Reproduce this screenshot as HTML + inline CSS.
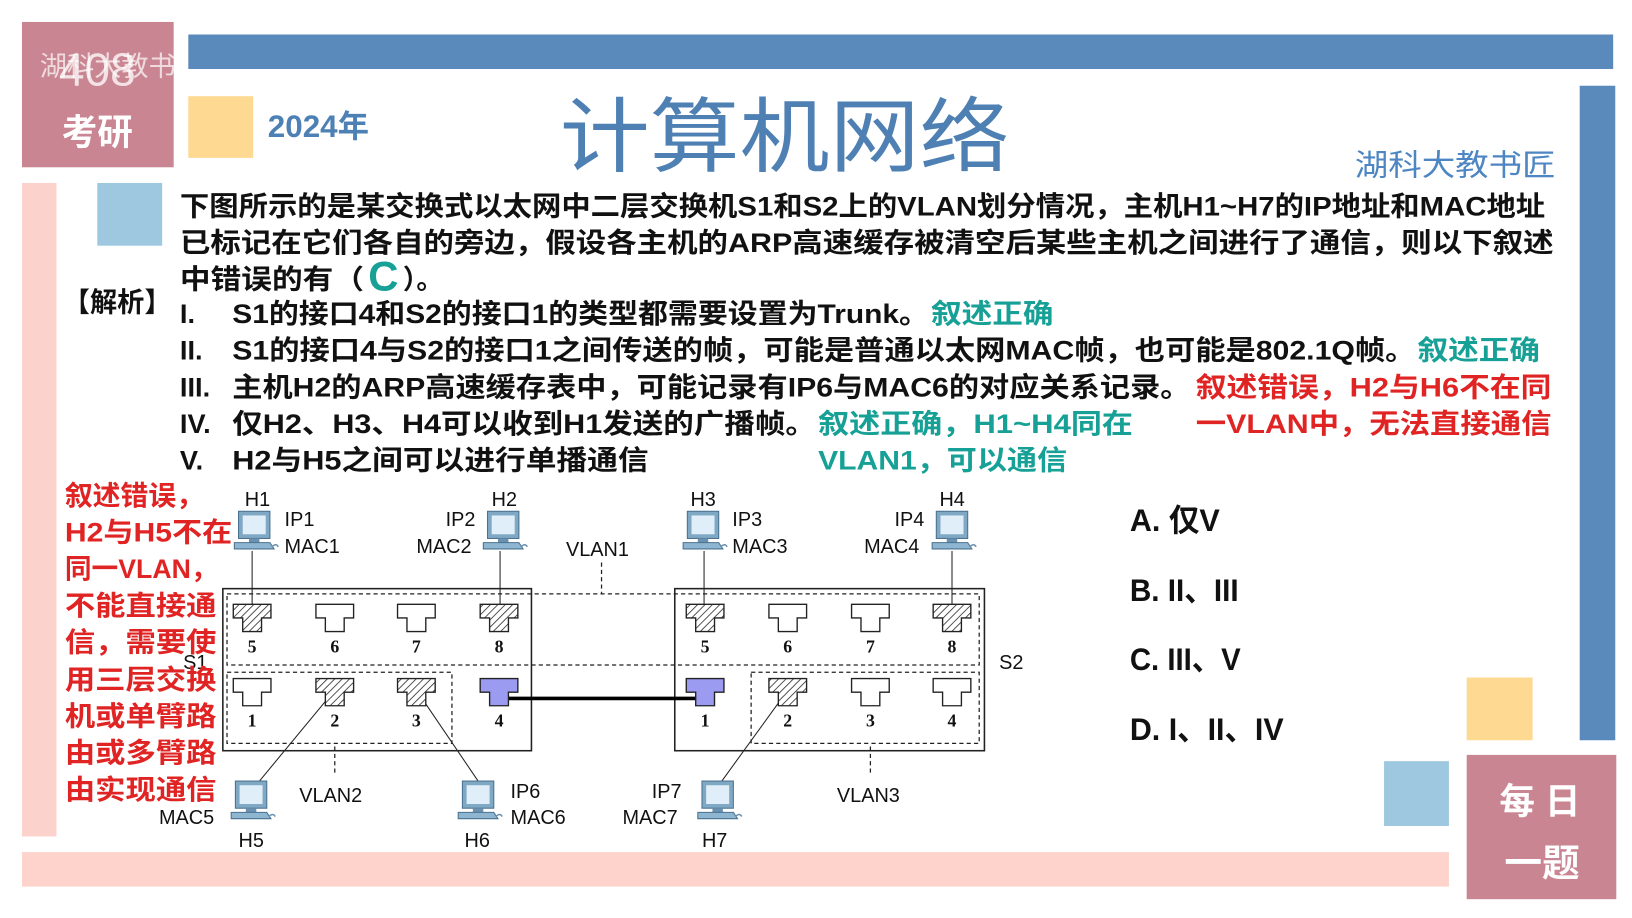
<!DOCTYPE html>
<html><head><meta charset="utf-8"><style>
html,body{margin:0;padding:0;background:#fff;width:1632px;height:918px;overflow:hidden}
svg{display:block}
text{font-family:"Liberation Sans","Noto Sans CJK SC",sans-serif}
.m{font-size:26px;fill:#111;font-weight:bold}
.g{fill:#17a096}
.r{fill:#e02424}
.d{font-size:19px;fill:#111}
.n{font-family:"Liberation Serif","Noto Serif CJK SC",serif;font-size:17px;font-weight:bold;fill:#111}
</style></head><body>
<svg width="1632" height="918" viewBox="0 0 1560 878" preserveAspectRatio="none" xmlns="http://www.w3.org/2000/svg">
<defs>
<pattern id="h" width="5" height="5" patternUnits="userSpaceOnUse" patternTransform="rotate(45)">
<rect width="5" height="5" fill="#fff"/><line x1="0" y1="0" x2="0" y2="5" stroke="#333" stroke-width="1.6"/></pattern>
<g id="pc">
<rect x="4" y="0" width="30" height="26" fill="#7fa8c4" stroke="#4a7290"/>
<rect x="8" y="4" width="22" height="18" fill="#dfeef8"/>
<rect x="14" y="26" width="10" height="4" fill="#6a92b0"/>
<path d="M0 30 h34 l4 6 h-38 z" fill="#8eb6d0" stroke="#4a7290"/>
<path d="M36 34 q4 -4 6 0" fill="none" stroke="#6a92b0" stroke-width="1.5"/>
</g>
</defs>
<rect x="21" y="21" width="145" height="139" fill="#c98591"/>
<text x="93" y="82" text-anchor="middle" font-family="Liberation Serif,serif" font-size="44" fill="#f3e3e6">408</text>
<text x="93" y="138" text-anchor="middle" font-size="34" font-weight="bold" fill="#fff" font-family="Noto Sans CJK SC,sans-serif">考研</text>
<text x="38" y="72" font-size="26" fill="#fff" fill-opacity="0.7" font-family="Noto Sans CJK SC,sans-serif">湖科大教书匠</text>
<text x="242" y="76" font-size="36" font-weight="bold" fill="#fff" fill-opacity="0.75" font-family="Liberation Sans,sans-serif" font-style="italic">bilibili</text>
<rect x="180" y="33" width="1362" height="33" fill="#5a8abb"/>
<rect x="1510" y="82" width="34" height="626" fill="#5a8abb"/>
<rect x="180" y="92" width="62" height="59" fill="#fdd991"/>
<text x="256" y="131" font-size="30" fill="#4d80b4" font-weight="bold">2024年</text>
<text x="535" y="158" font-size="78" fill="#4f80b3" font-family="Noto Serif CJK SC,serif" textLength="430" lengthAdjust="spacingAndGlyphs">计算机网络</text>
<text x="1295" y="168" font-size="29" fill="#4d86c2" textLength="192" lengthAdjust="spacingAndGlyphs">湖科大教书匠</text>
<rect x="21" y="175" width="33" height="625" fill="#fcd3cc"/>
<rect x="93" y="175" width="62" height="60" fill="#9dc8df"/>
<rect x="21" y="815" width="1364" height="33" fill="#fdd3cb"/>
<rect x="1402" y="648" width="63" height="60" fill="#fdd991"/>
<rect x="1323" y="728" width="62" height="62" fill="#9dc8df"/>
<rect x="1402" y="722" width="143" height="138" fill="#c98591"/>
<text x="1472" y="778" text-anchor="middle" font-size="34" font-weight="bold" fill="#fff" font-family="Noto Sans CJK SC,sans-serif">每 日</text>
<text x="1474" y="838" text-anchor="middle" font-size="36" font-weight="bold" fill="#fff" font-family="Noto Sans CJK SC,sans-serif">一题</text>

<text class="m" x="172" y="206" textLength="1305" lengthAdjust="spacingAndGlyphs">下图所示的是某交换式以太网中二层交换机S1和S2上的VLAN划分情况，主机H1~H7的IP地址和MAC地址</text>
<text class="m" x="172" y="241" textLength="1313" lengthAdjust="spacingAndGlyphs">已标记在它们各自的旁边，假设各主机的ARP高速缓存被清空后某些主机之间进行了通信，则以下叙述</text>
<text class="m" x="172" y="276" textLength="176" lengthAdjust="spacingAndGlyphs">中错误的有（</text>
<text x="352" y="278" font-size="40" font-weight="bold" class="g">C</text>
<text class="m" x="385" y="276">）。</text>
<text class="m" x="60" y="298" font-size="25">【解析】</text>

<text class="m" x="172" y="309">I.</text>
<text class="m" x="222" y="309" textLength="666" lengthAdjust="spacingAndGlyphs">S1的接口4和S2的接口1的类型都需要设置为Trunk。</text>
<text class="m g" x="890" y="309" textLength="117" lengthAdjust="spacingAndGlyphs">叙述正确</text>
<text class="m" x="172" y="344">II.</text>
<text class="m" x="222" y="344" textLength="1131" lengthAdjust="spacingAndGlyphs">S1的接口4与S2的接口1之间传送的帧，可能是普通以太网MAC帧，也可能是802.1Q帧。</text>
<text class="m g" x="1355" y="344" textLength="117" lengthAdjust="spacingAndGlyphs">叙述正确</text>
<text class="m" x="172" y="379">III.</text>
<text class="m" x="222" y="379" textLength="916" lengthAdjust="spacingAndGlyphs">主机H2的ARP高速缓存表中，可能记录有IP6与MAC6的对应关系记录。</text>
<text class="m r" x="1143" y="379" textLength="340" lengthAdjust="spacingAndGlyphs">叙述错误，H2与H6不在同</text>
<text class="m" x="172" y="414">IV.</text>
<text class="m" x="222" y="414" textLength="558" lengthAdjust="spacingAndGlyphs">仅H2、H3、H4可以收到H1发送的广播帧。</text>
<text class="m g" x="782" y="414" textLength="301" lengthAdjust="spacingAndGlyphs">叙述正确，H1~H4同在</text>
<text class="m r" x="1143" y="414" textLength="340" lengthAdjust="spacingAndGlyphs">一VLAN中，无法直接通信</text>
<text class="m" x="172" y="449">V.</text>
<text class="m" x="222" y="449" textLength="398" lengthAdjust="spacingAndGlyphs">H2与H5之间可以进行单播通信</text>
<text class="m g" x="782" y="449" textLength="238" lengthAdjust="spacingAndGlyphs">VLAN1，可以通信</text>

<g font-size="30" fill="#111" font-weight="bold">
<text x="1080" y="508" textLength="86" lengthAdjust="spacingAndGlyphs">A. 仅V</text>
<text x="1080" y="575" textLength="104" lengthAdjust="spacingAndGlyphs">B. II、III</text>
<text x="1080" y="641" textLength="106" lengthAdjust="spacingAndGlyphs">C. III、V</text>
<text x="1080" y="708" textLength="147" lengthAdjust="spacingAndGlyphs">D. I、II、IV</text>
</g>

<g fill="none" stroke="#222">
<rect x="213" y="563" width="295" height="155" stroke-width="1.5"/>
<rect x="645" y="563" width="296" height="155" stroke-width="1.5"/>
<g stroke-dasharray="4,3" stroke-width="1.2">
<rect x="217" y="568" width="719" height="68"/>
<rect x="217" y="643" width="215" height="68"/>
<rect x="718" y="643" width="218" height="68"/>
<line x1="575" y1="538" x2="575" y2="568"/>
<line x1="320" y1="714" x2="320" y2="742"/>
<line x1="832" y1="714" x2="832" y2="742"/>
</g>
<line x1="241" y1="527" x2="241" y2="588"/>
<line x1="478" y1="527" x2="478" y2="588"/>
<line x1="673" y1="527" x2="673" y2="588"/>
<line x1="910" y1="527" x2="910" y2="588"/>
<line x1="320" y1="660" x2="248" y2="747"/>
<line x1="398" y1="660" x2="457" y2="747"/>
<line x1="753" y1="660" x2="690" y2="747"/>
<line x1="477" y1="668" x2="672" y2="668" stroke-width="3.5" stroke="#000"/>
</g>
<g stroke="#222" stroke-width="1.3">
<path d="M223 578h36v13h-9v13h-18v-13h-9z" fill="url(#h)"/>
<path d="M302 578h36v13h-9v13h-18v-13h-9z" fill="#fff"/>
<path d="M380 578h36v13h-9v13h-18v-13h-9z" fill="#fff"/>
<path d="M459 578h36v13h-9v13h-18v-13h-9z" fill="url(#h)"/>
<path d="M656 578h36v13h-9v13h-18v-13h-9z" fill="url(#h)"/>
<path d="M735 578h36v13h-9v13h-18v-13h-9z" fill="#fff"/>
<path d="M814 578h36v13h-9v13h-18v-13h-9z" fill="#fff"/>
<path d="M892 578h36v13h-9v13h-18v-13h-9z" fill="url(#h)"/>
<path d="M223 649h36v13h-9v13h-18v-13h-9z" fill="#fff"/>
<path d="M302 649h36v13h-9v13h-18v-13h-9z" fill="url(#h)"/>
<path d="M380 649h36v13h-9v13h-18v-13h-9z" fill="url(#h)"/>
<path d="M459 649h36v13h-9v13h-18v-13h-9z" fill="#9b9bf2"/>
<path d="M656 649h36v13h-9v13h-18v-13h-9z" fill="#9b9bf2"/>
<path d="M735 649h36v13h-9v13h-18v-13h-9z" fill="url(#h)"/>
<path d="M814 649h36v13h-9v13h-18v-13h-9z" fill="#fff"/>
<path d="M892 649h36v13h-9v13h-18v-13h-9z" fill="#fff"/>
</g>
<g text-anchor="middle">
<text class="n" x="241" y="624">5</text><text class="n" x="320" y="624">6</text><text class="n" x="398" y="624">7</text><text class="n" x="477" y="624">8</text>
<text class="n" x="674" y="624">5</text><text class="n" x="753" y="624">6</text><text class="n" x="832" y="624">7</text><text class="n" x="910" y="624">8</text>
<text class="n" x="241" y="695">1</text><text class="n" x="320" y="695">2</text><text class="n" x="398" y="695">3</text><text class="n" x="477" y="695">4</text>
<text class="n" x="674" y="695">1</text><text class="n" x="753" y="695">2</text><text class="n" x="832" y="695">3</text><text class="n" x="910" y="695">4</text>
</g>
<use href="#pc" x="224" y="489"/>
<use href="#pc" x="462" y="489"/>
<use href="#pc" x="653" y="489"/>
<use href="#pc" x="891" y="489"/>
<use href="#pc" x="221" y="747"/>
<use href="#pc" x="438" y="747"/>
<use href="#pc" x="667" y="747"/>
<g>
<text class="d" x="234" y="484">H1</text>
<text class="d" x="470" y="484">H2</text>
<text class="d" x="660" y="484">H3</text>
<text class="d" x="898" y="484">H4</text>
<text class="d" x="272" y="503">IP1</text>
<text class="d" x="272" y="529">MAC1</text>
<text class="d" x="426" y="503">IP2</text>
<text class="d" x="398" y="529">MAC2</text>
<text class="d" x="541" y="532">VLAN1</text>
<text class="d" x="700" y="503">IP3</text>
<text class="d" x="700" y="529">MAC3</text>
<text class="d" x="855" y="503">IP4</text>
<text class="d" x="826" y="529">MAC4</text>
<text class="d" x="955" y="640">S2</text>
<text class="d" x="175" y="640">S1</text>
<text class="d" x="286" y="767">VLAN2</text>
<text class="d" x="800" y="767">VLAN3</text>
<text class="d" x="152" y="788">MAC5</text>
<text class="d" x="228" y="810">H5</text>
<text class="d" x="488" y="763">IP6</text>
<text class="d" x="488" y="788">MAC6</text>
<text class="d" x="444" y="810">H6</text>
<text class="d" x="623" y="763">IP7</text>
<text class="d" x="595" y="788">MAC7</text>
<text class="d" x="671" y="810">H7</text>
</g>
<g font-size="26" font-weight="bold" fill="#e02424">
<text x="62" y="483" textLength="133" lengthAdjust="spacingAndGlyphs">叙述错误，</text>
<text x="62" y="518" textLength="160" lengthAdjust="spacingAndGlyphs">H2与H5不在</text>
<text x="62" y="553" textLength="146" lengthAdjust="spacingAndGlyphs">同一VLAN，</text>
<text x="62" y="588" textLength="145" lengthAdjust="spacingAndGlyphs">不能直接通</text>
<text x="62" y="623" textLength="145" lengthAdjust="spacingAndGlyphs">信，需要使</text>
<text x="62" y="659" textLength="145" lengthAdjust="spacingAndGlyphs">用三层交换</text>
<text x="62" y="694" textLength="145" lengthAdjust="spacingAndGlyphs">机或单臂路</text>
<text x="62" y="729" textLength="145" lengthAdjust="spacingAndGlyphs">由或多臂路</text>
<text x="62" y="764" textLength="145" lengthAdjust="spacingAndGlyphs">由实现通信</text>
</g>
</svg>
</body></html>
